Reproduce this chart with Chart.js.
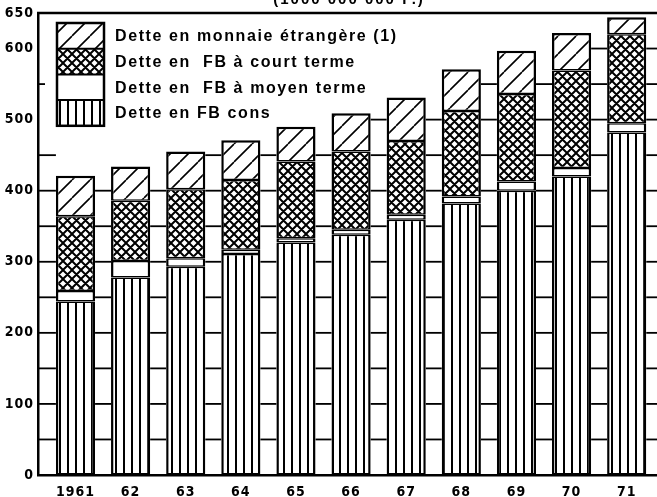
<!DOCTYPE html>
<html>
<head>
<meta charset="utf-8">
<script src="https://cdn.jsdelivr.net/npm/chart.js@4"></script>
<style>
  body { margin: 0; background: #fff; }
  #cadre { width: 657px; height: 497px; }
</style>
</head>
<body>
<div id="cadre"><canvas id="dette"></canvas></div>
<script>
const annees = ["1961", "62", "63", "64", "65", "66", "67", "68", "69", "70", "71"];
const detteCons = [244, 278, 293, 311, 327, 338, 359, 382, 400, 420, 482];
const detteMoyen = [15, 23, 12, 6, 6, 7, 7, 10, 13, 12, 13];
const detteCourt = [105, 85, 97, 98, 108, 110, 104, 120, 123, 137, 125];
const detteEtrangere = [57, 48, 53, 56, 49, 54, 61, 59, 61, 53, 24];
const graduations = [0, 100, 200, 300, 400, 500, 600, 650];
const legendes = [
  "Dette en monnaie étrangère (1)",
  "Dette en  FB à court terme",
  "Dette en  FB à moyen terme",
  "Dette en FB cons"
];
const titre = "(1000 000 000 F.)";

function motif(type) {
  const c = document.createElement("canvas");
  const g = c.getContext("2d");
  let s = 8;
  if (type === "hachures") s = 18;
  if (type === "croisillons") s = 9;
  c.width = s;
  c.height = s;
  g.fillStyle = "#fff";
  g.fillRect(0, 0, s, s);
  g.fillStyle = "#000";
  g.strokeStyle = "#000";
  if (type === "rayures") {
    g.fillRect(3, 0, 2, s);
  } else {
    g.lineWidth = type === "hachures" ? 1.6 : 2;
    g.beginPath();
    for (const k of [-s, 0, s]) {
      g.moveTo(k, s);
      g.lineTo(k + s, 0);
      if (type === "croisillons") {
        g.moveTo(k, 0);
        g.lineTo(k + s, s);
      }
    }
    g.stroke();
  }
  return g.createPattern(c, "repeat");
}

const fonds = {
  rayures: motif("rayures"),
  blanc: "#fff",
  croisillons: motif("croisillons"),
  hachures: motif("hachures")
};

const totaux = annees.map((_, i) => detteCons[i] + detteMoyen[i] + detteCourt[i] + detteEtrangere[i]);

function serie(valeurs) {
  return valeurs.map((v, i) => ({ x: i, y: v }));
}

// lignes horizontales seulement entre les barres
const clotures = {
  id: "clotures",
  beforeDatasetsDraw(chart) {
    const { ctx, chartArea } = chart;
    const x = chart.scales.x;
    const y = chart.scales.y;
    const demi = chart.getDatasetMeta(0).data[0].width / 2;
    const n = annees.length;
    ctx.save();
    ctx.strokeStyle = "#000";
    ctx.lineWidth = 1.8;
    const trait = (x1, x2, py) => {
      ctx.beginPath();
      ctx.moveTo(x1, py);
      ctx.lineTo(x2, py);
      ctx.stroke();
    };
    for (let v = 50; v < 650; v += 50) {
      const py = y.getPixelForValue(v);
      const g0 = x.getPixelForValue(0) - demi;
      if (v < totaux[0] + 50) trait(chartArea.left, g0, py);
      else if (!graduations.includes(v)) trait(chartArea.left, chartArea.left + 7, py);
      for (let i = 0; i < n - 1; i++) {
        if (v <= Math.min(totaux[i], totaux[i + 1])) {
          trait(x.getPixelForValue(i) + demi, x.getPixelForValue(i + 1) - demi, py);
        }
      }
      if (v <= totaux[n - 1]) trait(x.getPixelForValue(n - 1) + demi, chartArea.right, py);
    }
    ctx.lineWidth = 2.5;
    trait(chartArea.left - 1, chartArea.right, y.getPixelForValue(650));
    ctx.restore();
  }
};

const legende = {
  id: "legende",
  beforeDraw(chart) {
    chart.ctx.letterSpacing = "1px";
  },
  afterDraw(chart) {
    const ctx = chart.ctx;
    const x0 = 57, y0 = 23, l = 47, h = 25.7;
    const motifs = [fonds.hachures, fonds.croisillons, fonds.blanc, fonds.rayures];
    ctx.save();
    motifs.forEach((m, i) => {
      ctx.fillStyle = m;
      ctx.fillRect(x0, y0 + i * h, l, h);
    });
    ctx.strokeStyle = "#000";
    ctx.lineWidth = 2;
    for (let i = 1; i < 4; i++) {
      ctx.beginPath();
      ctx.moveTo(x0, y0 + i * h);
      ctx.lineTo(x0 + l, y0 + i * h);
      ctx.stroke();
    }
    ctx.lineWidth = 2.5;
    ctx.strokeRect(x0, y0, l, h * 4);

    ctx.fillStyle = "#000";
    ctx.font = "bold 16px 'Liberation Sans', Arial, sans-serif";
    ctx.letterSpacing = "1.6px";
    ctx.textBaseline = "middle";
    ctx.textAlign = "left";
    legendes.forEach((t, i) => {
      ctx.fillText(t, 115, y0 + i * h + h / 2 + 1);
    });

    ctx.font = "bold 15px 'Liberation Sans', Arial, sans-serif";
    ctx.letterSpacing = "2px";
    ctx.textBaseline = "alphabetic";
    ctx.textAlign = "center";
    ctx.fillText(titre, 349, 4);
    ctx.restore();
  }
};

const policeAxe = { family: "'Liberation Sans Narrow', 'DejaVu Sans Condensed', sans-serif", size: 14, weight: "bold" };
const bordure = (haut, bas) => ({ top: haut, bottom: bas, left: 2.5, right: 2.5 });

new Chart(document.getElementById("dette"), {
  type: "bar",
  data: {
    datasets: [
      { label: legendes[3], data: serie(detteCons), backgroundColor: fonds.rayures, borderWidth: bordure(1.5, 2) },
      { label: legendes[2], data: serie(detteMoyen), backgroundColor: fonds.blanc, borderWidth: bordure(1.5, 1.5) },
      { label: legendes[1], data: serie(detteCourt), backgroundColor: fonds.croisillons, borderWidth: bordure(1.5, 1.5) },
      { label: legendes[0], data: serie(detteEtrangere), backgroundColor: fonds.hachures, borderWidth: bordure(2.5, 1.5) }
    ]
  },
  options: {
    animation: false,
    responsive: true,
    maintainAspectRatio: false,
    layout: { padding: { top: 13, right: 0, bottom: 0, left: 0 } },
    datasets: {
      bar: {
        borderColor: "#000",
        borderSkipped: false,
        barPercentage: 0.71,
        categoryPercentage: 1
      }
    },
    plugins: {
      legend: { display: false },
      tooltip: { enabled: false }
    },
    scales: {
      x: {
        type: "linear",
        stacked: true,
        offset: false,
        min: -0.68,
        max: 10.55,
        grid: { display: false, drawTicks: false, offset: false },
        border: { display: true, color: "#000", width: 2.5 },
        ticks: {
          stepSize: 1,
          includeBounds: false,
          autoSkip: false,
          maxRotation: 0,
          padding: 9,
          color: "#000",
          font: policeAxe,
          callback: v => annees[v] ?? ""
        },
        afterFit: s => { s.height = 22; }
      },
      y: {
        stacked: true,
        min: 0,
        max: 650,
        grid: { display: false, drawTicks: false },
        border: { display: true, color: "#000", width: 2.5 },
        ticks: {
          stepSize: 50,
          autoSkip: false,
          padding: 4,
          color: "#000",
          font: policeAxe,
          callback: v => graduations.includes(v) ? String(v) : ""
        },
        afterFit: s => { s.width = 38; }
      }
    }
  },
  plugins: [clotures, legende]
});
</script>
</body>
</html>
